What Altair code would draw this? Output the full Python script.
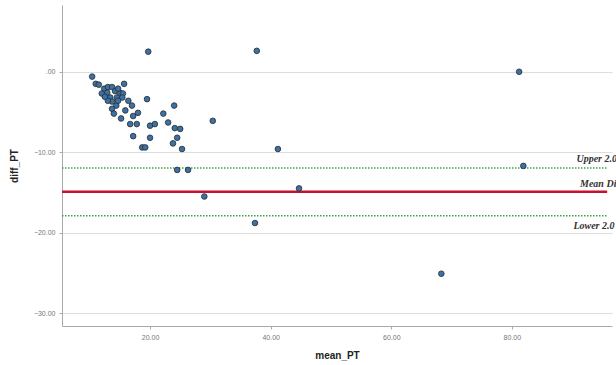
import altair as alt
import pandas as pd

mean_pt = [10.4, 11.0, 11.5, 12.4, 13.0, 13.7, 15.7, 12.0, 12.9, 14.2, 15.0, 15.5,
           13.4, 14.5, 15.4, 13.7, 14.4, 13.7, 14.0, 13.0, 14.7, 19.5, 17.0, 18.0,
           17.2, 15.2, 16.7, 17.8, 17.2, 18.7, 19.2, 20.0, 20.8, 20.0, 22.2, 23.0,
           24.0, 24.1, 25.0, 24.5, 23.8, 25.3, 30.4, 24.5, 26.3, 29.0, 19.7, 37.7,
           81.2, 81.9, 41.2, 44.7, 37.4, 68.3, 14.7, 12.5, 15.9, 16.4]
diff_pt = [-0.6, -1.5, -1.6, -2.1, -1.9, -1.9, -1.5, -2.7, -2.6, -2.4, -2.6, -2.7,
           -3.2, -3.2, -3.2, -3.7, -4.2, -4.6, -5.2, -3.6, -3.6, -3.4, -4.2, -5.1,
           -5.5, -5.8, -6.5, -6.5, -8.0, -9.4, -9.4, -6.7, -6.5, -8.2, -5.2, -6.3,
           -4.2, -7.0, -7.1, -8.2, -8.9, -9.6, -6.1, -12.2, -12.2, -15.5, 2.5, 2.6,
           0.0, -11.7, -9.6, -14.5, -18.8, -25.1, -2.1, -3.1, -4.8, -3.6]

ref_names = ["Upper 2.0 SD", "Mean Difference", "Lower 2.0 SD"]
ref_values = [-11.96, -14.9, -17.9]
ref_label_y = [-10.9, -14.0, -19.2]
ref_label_x = [90.7, 91.3, 90.2]

x_ticks = [20, 40, 60, 80]
y_ticks = [0, -10, -20, -30]

X_DOM = [5.4, 96.6]
Y_DOM = [-31.6, 8.3]

pts = pd.DataFrame({"mean_PT": mean_pt, "diff_PT": diff_pt})
refs = pd.DataFrame({"name": ref_names, "v": ref_values, "ly": ref_label_y,
                     "lx": ref_label_x, "x0": [X_DOM[0]] * 3, "x1": [95.8] * 3})

xs = alt.Scale(domain=X_DOM, nice=False, zero=False)
ys = alt.Scale(domain=Y_DOM, nice=False, zero=False)

lab = "datum.value == 0 ? '.00' : format(datum.value, '.2f')"

points = alt.Chart(pts).mark_point(
    filled=True, size=32, fill="#3a72a6", stroke="#2b2b2b", strokeWidth=0.8, opacity=1
).encode(
    x=alt.X("mean_PT:Q", scale=xs, title="mean_PT",
            axis=alt.Axis(values=x_ticks, labelExpr=lab, grid=False, tickSize=3)),
    y=alt.Y("diff_PT:Q", scale=ys, title="diff_PT",
            axis=alt.Axis(values=y_ticks, labelExpr=lab, grid=True, tickSize=3)),
)

mean_df = refs[refs["name"] == "Mean Difference"]
sd_df = refs[refs["name"] != "Mean Difference"]

mean_line = alt.Chart(mean_df).mark_rule(color="#c8102e", strokeWidth=2.5).encode(
    x=alt.X("x0:Q", scale=xs), x2="x1:Q", y=alt.Y("v:Q", scale=ys))
sd_lines = alt.Chart(sd_df).mark_rule(color="#3aa04a", strokeWidth=1.5,
                                      strokeDash=[1.5, 1.5]).encode(
    x=alt.X("x0:Q", scale=xs), x2="x1:Q", y=alt.Y("v:Q", scale=ys))

labels = alt.Chart(refs).mark_text(
    align="left", baseline="middle", font="Liberation Serif", fontStyle="italic",
    fontWeight="bold", fontSize=10, color="#333"
).encode(x=alt.X("lx:Q", scale=xs), y=alt.Y("ly:Q", scale=ys), text="name:N")

chart = alt.layer(sd_lines, mean_line, points, labels).properties(
    width=550, height=321,
    autosize=alt.AutoSizeParams(type="none"),
    padding={"left": 62, "top": 5, "right": 4, "bottom": 39},
).configure_view(stroke=None).configure_axis(
    domainColor="#aaaaaa", tickColor="#aaaaaa", gridColor="#dddddd",
    labelColor="#777777", labelFontSize=7, labelFont="Liberation Sans",
    titleFont="Liberation Sans", titleFontSize=10, titleFontWeight="bold",
    titleColor="#222222", labelPadding=4,
).configure_axisY(titlePadding=14).configure_axisX(titlePadding=10)

chart.save("out.html", embed_options={"renderer": "svg", "actions": False})
